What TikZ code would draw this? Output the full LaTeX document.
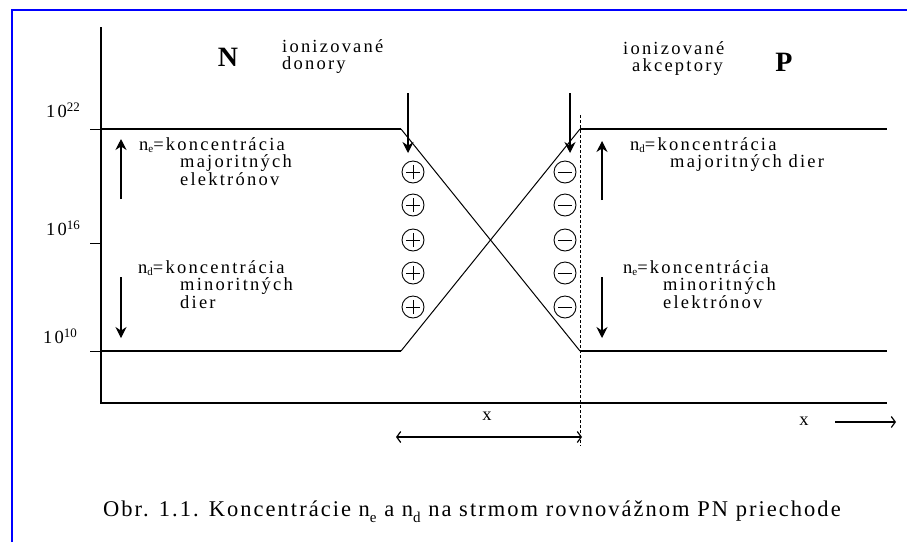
\documentclass[tikz,border=0pt]{standalone}
\usepackage{fontspec}
\setmainfont{Liberation Serif}
\newfontfamily\lblfam[LetterSpace=12]{Liberation Serif}
\newfontfamily\capfam[LetterSpace=9]{Liberation Serif}
\usetikzlibrary{arrows.meta}
\newcommand{\lblfont}{\lblfam\fontsize{18.5}{17.5}\selectfont}
\newcommand{\capfont}{\capfam\fontsize{22.5}{24}\selectfont}
\newcommand{\sub}[1]{\raisebox{-2.5pt}{\fontsize{11}{11}\selectfont #1}}
\newcommand{\capsub}[1]{\raisebox{-6pt}{\fontsize{15}{15}\selectfont #1}}
\tikzset{
  frame/.style={draw=blue, line width=2.6pt},
  axisline/.style={line width=1.4pt},
  curve/.style={line width=1pt},
  tickline/.style={line width=1pt},
  sarrow/.style={line width=1.1pt, -{Stealth[length=11pt,width=11pt]}},
  barbarrow/.style={line width=1.2pt, -{Straight Barb[length=4pt,width=11pt]}},
  dblarrow/.style={line width=1.2pt, {Straight Barb[length=4pt,width=11pt]}-{Straight Barb[length=4pt,width=11pt]}},
  lbl/.style={font=\lblfont, inner sep=0pt, align=left, anchor=north west},
  num/.style={font=\lblfont, inner sep=0pt, anchor=west},
  sgn/.style={circle, draw, line width=0.9pt, minimum size=22pt, inner sep=0pt},
  region/.style={font=\bfseries\fontsize{28}{28}\selectfont, inner sep=0pt},
  dots/.style={line width=1pt, dash pattern=on 2.5pt off 2.5pt},
}
\begin{document}
\begin{tikzpicture}[x=1pt,y=-1pt]
\useasboundingbox (0,0) rectangle (907,542);
\fill[white] (0,0) rectangle (907,542);
% frame
\coordinate (fb) at (12,542);
\coordinate (fc) at (12,10);
\coordinate (fr) at (907,10);
\draw[frame] (fb) -- (fc) -- (fr);
% axes
\coordinate (ytop) at (101,27);
\coordinate (orig) at (101,403);
\coordinate (xend) at (887,403);
\draw[axisline] (ytop) -- (orig) -- (xend);
% ticks
\coordinate (t1a) at (90,129); \coordinate (t1b) at (101,129);
\coordinate (t2a) at (90,243); \coordinate (t2b) at (101,243);
\coordinate (t3a) at (90,351); \coordinate (t3b) at (101,351);
\draw[tickline] (t1a) -- (t1b);
\draw[tickline] (t2a) -- (t2b);
\draw[tickline] (t3a) -- (t3b);
\node[num] (l22) at (46,110) {10$^{\mathrm{22}}$};
\node[num] (l16) at (46,228) {10$^{\mathrm{16}}$};
\node[num] (l10) at (43,336) {10$^{\mathrm{10}}$};
% curves
\coordinate (a1) at (101,129); \coordinate (a2) at (401,129);
\coordinate (a3) at (580,351); \coordinate (a4) at (887,351);
\coordinate (b1) at (101,351); \coordinate (b2) at (401,351);
\coordinate (b3) at (580,129); \coordinate (b4) at (887,129);
\draw[axisline] (a1) -- (a2);
\draw[curve] (a2) -- (a3);
\draw[axisline] (a3) -- (a4);
\draw[axisline] (b1) -- (b2);
\draw[curve] (b2) -- (b3);
\draw[axisline] (b3) -- (b4);
% junction dotted line
\coordinate (d1) at (580,115); \coordinate (d2) at (580,446);
\draw[dots] (d1) -- (d2);
% region labels
\node[region] (N) at (228,57) {N};
\node[region] (P) at (784,62) {P};
\node[lbl] (ion1) at (282,39) {ionizované\\donory};
\node[lbl] (ion2) at (623,41) {ionizované\\\hspace*{9pt}akceptory};
\coordinate (da1) at (408,93); \coordinate (da2) at (408,153);
\coordinate (aa1) at (570,93); \coordinate (aa2) at (570,153);
\draw[sarrow] (da1) -- (da2);
\draw[sarrow] (aa1) -- (aa2);
% ions
\foreach \i/\yy in {1/172,2/205,3/240,4/273,5/307}{
  \node[sgn] (p\i) at (413,\yy) {};
  \draw[line width=0.9pt] ([xshift=-7pt]p\i.center) -- ([xshift=7pt]p\i.center);
  \draw[line width=0.9pt] ([yshift=-7pt]p\i.center) -- ([yshift=7pt]p\i.center);
  \node[sgn] (m\i) at (565,\yy) {};
  \draw[line width=0.9pt] ([xshift=-7pt]m\i.center) -- ([xshift=7pt]m\i.center);
}
% left texts
\node[lbl] (tl1) at (139,137) {n\sub{e}=koncentrácia\\\hspace*{41pt}majoritných\\\hspace*{41pt}elektrónov};
\node[lbl] (tl2) at (138,260) {n\sub{d}=koncentrácia\\\hspace*{42pt}minoritných\\\hspace*{42pt}dier};
\node[lbl] (tr1) at (630,137) {n\sub{d}=koncentrácia\\\hspace*{40pt}majoritných dier};
\node[lbl] (tr2) at (623,260) {n\sub{e}=koncentrácia\\\hspace*{40pt}minoritných\\\hspace*{40pt}elektrónov};
% vertical arrows
\coordinate (u1a) at (121,199); \coordinate (u1b) at (121,139);
\coordinate (w1a) at (121,277); \coordinate (w1b) at (121,338);
\coordinate (u2a) at (602,200); \coordinate (u2b) at (602,141);
\coordinate (w2a) at (602,277); \coordinate (w2b) at (602,338);
\draw[sarrow] (u1a) -- (u1b);
\draw[sarrow] (w1a) -- (w1b);
\draw[sarrow] (u2a) -- (u2b);
\draw[sarrow] (w2a) -- (w2b);
% width arrow
\coordinate (wa) at (396,437); \coordinate (wb) at (582,437);
\draw[dblarrow] (wa) -- (wb);
\node[font=\lblfont, inner sep=0pt] (xw) at (487,416) {x};
\node[font=\lblfont, inner sep=0pt] (xa) at (804,421) {x};
\coordinate (xa1) at (835,422); \coordinate (xa2) at (896,422);
\draw[barbarrow] (xa1) -- (xa2);
% caption
\node[font=\capfont, inner sep=0pt, anchor=base west] (cap) at (103,516)
  {Obr. 1.1. Koncentrácie n\capsub{e} a n\capsub{d} na strmom rovnovážnom PN priechode};
\end{tikzpicture}
\end{document}
